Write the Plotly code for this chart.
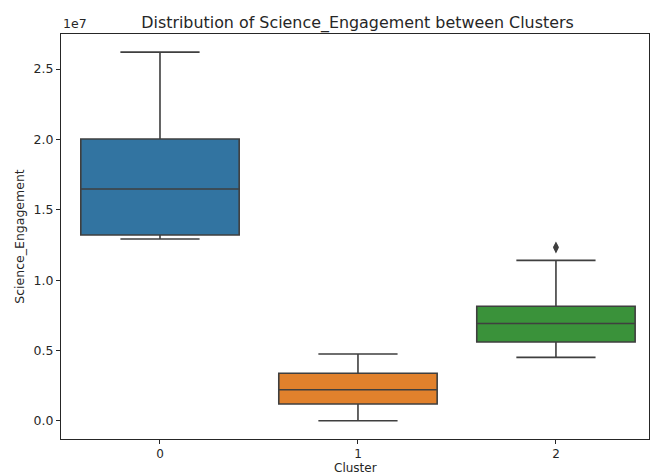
import plotly.graph_objects as go

clusters = [0, 1, 2]
cluster_labels = ["0", "1", "2"]
lower_whisker = [12.93e6, 0.02e6, 4.52e6]
q1_vals = [13.21e6, 1.21e6, 5.61e6]
median_vals = [16.48e6, 2.22e6, 6.92e6]
q3_vals = [20.03e6, 3.39e6, 8.15e6]
upper_whisker = [26.2e6, 4.76e6, 11.41e6]
box_colors = ["#3274a1", "#e1812c", "#3a923a"]
outlier_x = [2, 2]
outlier_y = [12.30e6, 12.36e6]

ytick_vals = [0, 0.5e7, 1.0e7, 1.5e7, 2.0e7, 2.5e7]
ytick_text = ["0.0", "0.5", "1.0", "1.5", "2.0", "2.5"]

fig = go.Figure()
for i, c in enumerate(clusters):
    fig.add_trace(go.Box(
        x=[c], q1=[q1_vals[i]], median=[median_vals[i]], q3=[q3_vals[i]],
        lowerfence=[lower_whisker[i]], upperfence=[upper_whisker[i]],
        fillcolor=box_colors[i], line=dict(color="#3f3f3f", width=1.6),
        width=0.8, whiskerwidth=0.5, boxpoints=False, showlegend=False,
        hoverinfo="skip",
    ))
fig.add_trace(go.Scatter(
    x=outlier_x, y=outlier_y, mode="markers",
    marker=dict(symbol="diamond-tall", size=8, color="#3f3f3f"),
    showlegend=False, hoverinfo="skip",
))

font = "DejaVu Sans, sans-serif"
fig.update_layout(
    width=650, height=475,
    margin=dict(l=61, r=1, t=34, b=36),
    paper_bgcolor="white", plot_bgcolor="white",
    font=dict(family=font, size=12.5, color="#262626"),
    title=dict(text="Distribution of Science_Engagement between Clusters",
               x=357.5 / 650, xanchor="center", y=1 - 22 / 475, yanchor="middle",
               yref="container", font=dict(size=15.9, color="#262626")),
    xaxis=dict(range=[-0.5, 2.47], tickvals=clusters, ticktext=cluster_labels,
               showline=True, linecolor="#262626", linewidth=1, mirror=True,
               ticks="outside", ticklen=4, tickcolor="#262626", showgrid=False,
               zeroline=False, automargin=False, ticklabelstandoff=0,
               tickfont=dict(size=12)),
    yaxis=dict(range=[-0.128e7, 2.749e7], tickvals=ytick_vals, ticktext=ytick_text,
               showline=True, linecolor="#262626", linewidth=1, mirror=True,
               ticks="outside", ticklen=4, tickcolor="#262626", showgrid=False,
               zeroline=False, automargin=False,
               title=dict(text="Science_Engagement", standoff=6, font=dict(size=12.5))),
    annotations=[
        dict(text="1e7", x=0, y=1, xref="paper", yref="paper",
             xanchor="left", yanchor="bottom", showarrow=False,
             yshift=1, font=dict(size=12.5)),
        dict(text="Cluster", x=0.5, y=0, xref="paper", yref="paper",
             xanchor="center", yanchor="top", showarrow=False, borderpad=0,
             yshift=-21, font=dict(size=12)),
    ],
)
fig.write_html("out.html", config={"displayModeBar": False})

with open("out.html", "r", encoding="utf-8") as f:
    html = f.read()
html = html.replace("<head>", "<head><style>html,body{margin:0;padding:0;overflow:hidden;}</style>", 1)
with open("out.html", "w", encoding="utf-8") as f:
    f.write(html)
